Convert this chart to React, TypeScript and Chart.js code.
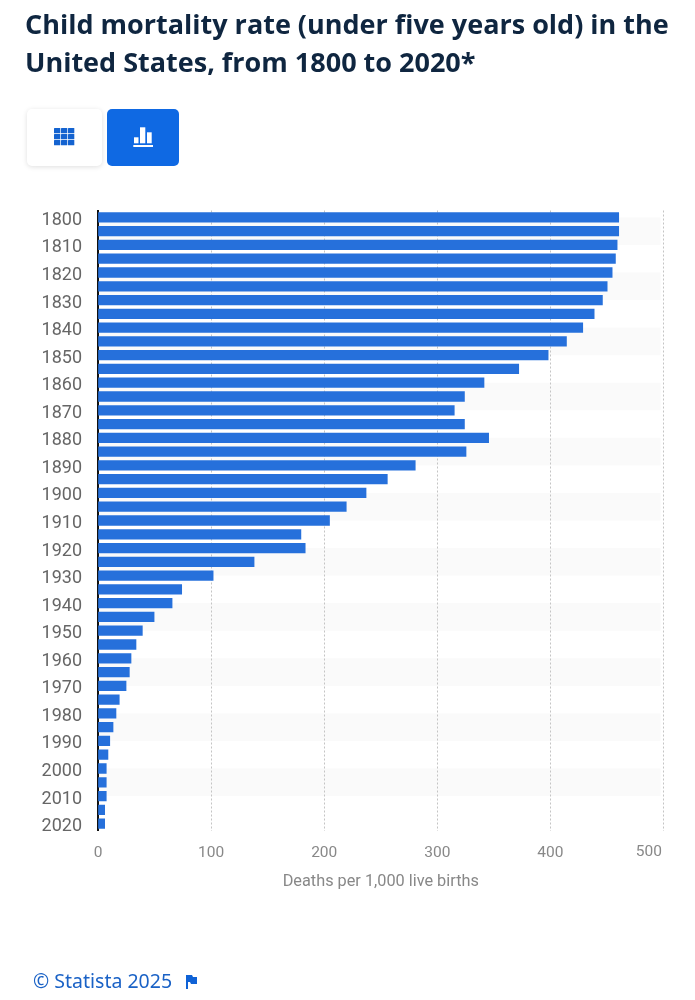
import React, { useEffect, useRef } from "react";
import { Chart, registerables } from "chart.js";

Chart.register(...registerables);

const categories = [
  "1800","1805","1810","1815","1820","1825","1830","1835","1840","1845","1850","1855","1860","1865","1870",
  "1875","1880","1885","1890","1895","1900","1905","1910","1915","1920","1925","1930","1935","1940","1945",
  "1950","1955","1960","1965","1970","1975","1980","1985","1990","1995","2000","2005","2010","2015","2020",
];
const deaths = [
  460.4,460.4,459,457.5,454.6,450.2,446,438.7,428.6,414.2,398,372,341.3,324,315,
  324,345.4,325.4,280.5,255.8,237,219.5,204.7,179.4,183.2,138,101.8,74,65.5,49.6,
  39.2,33.6,29.2,27.7,24.8,18.8,15.9,13.3,10.4,8.8,7.3,7.3,7.3,5.9,5.9,
];
const xTicks = [0, 100, 200, 300, 400, 500];
const axisTitle = "Deaths per 1,000 live births";
const titleLines = ["Child mortality rate (under five years old) in the", "United States, from 1800 to 2020*"];
const footer = "© Statista 2025";

const bandsPlugin = {
  id: "bands",
  beforeDraw(chart: any) {
    const { ctx, scales, chartArea } = chart;
    ctx.save();
    ctx.fillStyle = "#fafafa";
    for (let i = 0; i + 2 < categories.length; i += 4) {
      const a = scales.y.getPixelForValue(i);
      const b = scales.y.getPixelForValue(i + 2);
      ctx.fillRect(chartArea.left, a, chartArea.right - chartArea.left - 3, b - a);
    }
    ctx.restore();
  },
  afterDraw(chart: any) {
    const { ctx, scales } = chart;
    ctx.save();
    ctx.font = "15.5px Roboto";
    ctx.fillStyle = "#888888";
    ctx.textAlign = "right";
    ctx.textBaseline = "middle";
    ctx.fillText("500", scales.x.getPixelForValue(500) - 1.5, 852);
    ctx.restore();
  },
};

export default function App() {
  const ref = useRef<HTMLCanvasElement>(null);
  useEffect(() => {
    const chart = new Chart(ref.current as HTMLCanvasElement, {
      type: "bar",
      data: {
        labels: categories,
        datasets: [{ data: deaths, backgroundColor: "#2670db", barThickness: 9.6, borderSkipped: false }],
      },
      plugins: [bandsPlugin],
      options: {
        indexAxis: "y",
        animation: false,
        responsive: false,
        layout: { padding: { top: 210.5, right: 31.5, left: 0, bottom: 0 } },
        plugins: { legend: { display: false }, tooltip: { enabled: false } },
        scales: {
          x: {
            type: "linear",
            min: 0,
            max: 500,
            afterBuildTicks: (s: any) => { s.ticks = xTicks.map((value) => ({ value })); },
            afterFit: (s: any) => { s.height = 1000 - 830.5; },
            grid: { color: "#c4c4c4", lineWidth: 1, drawTicks: false },
            border: { display: false, dash: [2, 2] },
            ticks: {
              padding: 13,
              maxRotation: 0,
              color: "#888888",
              font: { family: "Roboto", size: 15.5 },
              callback: (v: any) => (v === 500 ? "" : String(v)),
            },
            title: {
              display: true,
              text: axisTitle,
              color: "#888888",
              font: { family: "Roboto", size: 16.3 },
              padding: { top: 12, bottom: 108 },
            },
          },
          y: {
            type: "category",
            afterFit: (s: any) => { s.width = 98; },
            grid: { display: false, drawTicks: false },
            border: { display: true, color: "#111111", width: 2 },
            ticks: {
              autoSkip: false,
              padding: 16,
              labelOffset: 3,
              color: "#666666",
              font: { family: "Roboto", size: 18 },
              callback: (_v: any, i: number) => (i % 2 === 0 ? categories[i] : ""),
            },
          },
        },
      } as any,
    });
    return () => chart.destroy();
  }, []);

  return (
    <div style={{ position: "absolute", left: 0, top: 0, width: 695, height: 1000, background: "#fff", overflow: "hidden" }}>
      <canvas ref={ref} width={695} height={1000} style={{ position: "absolute", left: 0, top: 0, width: 695, height: 1000 }} />
      <div
        style={{
          position: "absolute", left: 25, top: 5, whiteSpace: "nowrap",
          font: "700 27px/38px 'Open Sans'", color: "#0f2640",
        }}
      >
        {titleLines.map((t) => (<div key={t}>{t}</div>))}
      </div>
      <div
        style={{
          position: "absolute", left: 27, top: 109, width: 75, height: 57, borderRadius: 5, background: "#fff",
          boxShadow: "0 1px 5px rgba(0,0,0,0.13)",
        }}
      >
        <svg width="75" height="57" style={{ display: "block" }}>
          {[0, 1, 2].map((r) =>
            [0, 1, 2].map((c) => (
              <rect key={r + "-" + c} x={27 + c * 7} y={19 + r * 6} width={6.3} height={5.3} fill="#1463d0" rx={0.5} />
            )),
          )}
        </svg>
      </div>
      <div style={{ position: "absolute", left: 107, top: 109, width: 72, height: 57, borderRadius: 5, background: "#0f69e3" }}>
        <svg width="72" height="57" style={{ display: "block" }}>
          <rect x={27} y={28.3} width={4.5} height={6} fill="#fff" />
          <rect x={33} y={18.3} width={5.3} height={16} fill="#fff" />
          <rect x={40} y={23.3} width={4.7} height={11} fill="#fff" />
          <rect x={26.3} y={36} width={19.7} height={2} fill="#fff" />
        </svg>
      </div>
      <div
        style={{
          position: "absolute", left: 33, top: 968, whiteSpace: "nowrap",
          font: "19.5px/26px 'Noto Sans'", color: "#1a62c6",
        }}
      >
        {footer}
      </div>
      <svg width="14" height="16" style={{ position: "absolute", left: 185, top: 974 }}>
        <path d="M1 1 H7 L8 3 H12 V10 H6 L5 8 H3 V15 H1 Z" fill="#0f62d6" />
      </svg>
    </div>
  );
}
